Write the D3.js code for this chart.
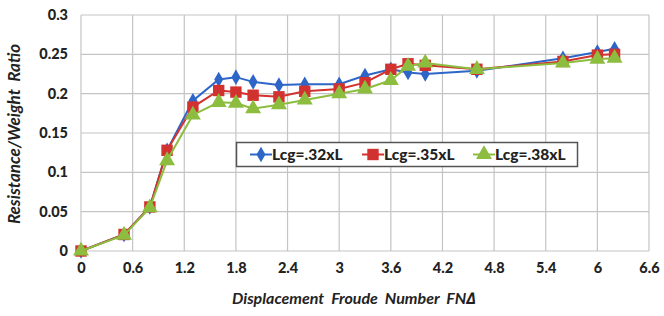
<!DOCTYPE html>
<html>
<head>
<meta charset="utf-8">
<script src="https://cdn.jsdelivr.net/npm/d3@7"></script>
<style>
  body { margin: 0; background: #fff; }
  svg { display: block; font-family: Lato, "Open Sans", sans-serif; }
</style>
</head>
<body>
<svg id="chart" width="664" height="316"></svg>
<script>
// values
const froude = [0, 0.5, 0.8, 1.0, 1.3, 1.6, 1.8, 2.0, 2.3, 2.6, 3.0, 3.3, 3.6, 3.8, 4.0, 4.6, 5.6, 6.0, 6.2];
const lcg32 = [0, 0.021, 0.056, 0.128, 0.191, 0.218, 0.221, 0.215, 0.211, 0.212, 0.212, 0.223, 0.231, 0.227, 0.225, 0.229, 0.245, 0.253, 0.257];
const lcg35 = [0, 0.021, 0.056, 0.128, 0.183, 0.204, 0.202, 0.198, 0.196, 0.203, 0.206, 0.214, 0.231, 0.238, 0.236, 0.231, 0.241, 0.249, 0.250];
const lcg38 = [0, 0.020, 0.055, 0.115, 0.173, 0.189, 0.188, 0.181, 0.186, 0.192, 0.200, 0.206, 0.217, 0.235, 0.239, 0.231, 0.239, 0.244, 0.245];
const seriesNames = ["Lcg=.32xL", "Lcg=.35xL", "Lcg=.38xL"];
const xTicks = [0, 0.6, 1.2, 1.8, 2.4, 3, 3.6, 4.2, 4.8, 5.4, 6, 6.6];
const yTicks = [0, 0.05, 0.1, 0.15, 0.2, 0.25, 0.3];

const svg = d3.select("#chart");
const margin = { left: 81, right: 15, top: 15, bottom: 65 };
const W = 664, H = 316;

const x = d3.scaleLinear().domain([0, 6.6]).range([margin.left, W - margin.right]);
const y = d3.scaleLinear().domain([0, 0.3]).range([H - margin.bottom, margin.top]);

const colors = ["#2e66c8", "#d2322f", "#8cbd3f"];
const symbols = [d3.symbolDiamond, d3.symbolSquare, d3.symbolTriangle];
const symSizes = [70, 130, 110];

// gridlines
const grid = svg.append("g");
grid.selectAll("line.h").data(yTicks).enter().append("line")
  .attr("x1", x(0)).attr("x2", x(6.6))
  .attr("y1", d => y(d)).attr("y2", d => y(d))
  .attr("stroke", "#c4c4c4").attr("stroke-width", 1.2);
grid.selectAll("line.v").data(xTicks).enter().append("line")
  .attr("y1", y(0)).attr("y2", y(0.3))
  .attr("x1", d => x(d)).attr("x2", d => x(d))
  .attr("stroke", "#c4c4c4").attr("stroke-width", 1.2);

// axes (labels only)
svg.append("g")
  .attr("transform", `translate(0,${y(0)})`)
  .call(d3.axisBottom(x).tickValues(xTicks).tickSize(0).tickPadding(12).tickFormat(d => String(d)));
svg.append("g")
  .attr("transform", `translate(${margin.left},0)`)
  .call(d3.axisLeft(y).tickValues(yTicks).tickSize(0).tickPadding(13).tickFormat(d => String(d)));
svg.selectAll(".domain").remove();
svg.selectAll(".tick text")
  .attr("font-family", "Lato, sans-serif")
  .attr("font-size", 14.5).attr("font-weight", 900).attr("fill", "#222");

svg.append("text")
  .attr("x", 354).attr("y", 304)
  .attr("text-anchor", "middle")
  .attr("font-size", 16).attr("font-weight", "bold").attr("font-style", "italic")
  .attr("fill", "#222").style("white-space", "pre")
  .text("Displacement  Froude  Number  FN\u2206");

svg.append("text")
  .attr("transform", `translate(20,134) rotate(-90)`)
  .attr("text-anchor", "middle")
  .attr("font-size", 17).attr("font-weight", "bold").attr("font-style", "italic")
  .attr("fill", "#222").style("white-space", "pre")
  .text("Resistance/Weight  Ratio");

// series
const allSeries = [lcg32, lcg35, lcg38];
const line = d3.line().x((d, i) => x(froude[i])).y(d => y(d));

allSeries.forEach((vals, k) => {
  const g = svg.append("g");
  g.append("path").datum(vals)
    .attr("d", line)
    .attr("fill", "none")
    .attr("stroke", colors[k]).attr("stroke-width", 2);
  g.selectAll("path.m").data(vals).enter().append("path")
    .attr("class", "m")
    .attr("d", d3.symbol().type(symbols[k]).size(symSizes[k]))
    .attr("transform", (d, i) => `translate(${x(froude[i])},${y(d)})`)
    .attr("fill", colors[k]);
});

// legend
const leg = svg.append("g");
leg.append("rect")
  .attr("x", 236.5).attr("y", 142.5).attr("width", 341).attr("height", 24)
  .attr("fill", "#fff").attr("stroke", "#555").attr("stroke-width", 1.5);
const legX = [250, 362, 473];
seriesNames.forEach((name, k) => {
  const cy = 154.5;
  leg.append("line")
    .attr("x1", legX[k]).attr("x2", legX[k] + 22)
    .attr("y1", cy).attr("y2", cy)
    .attr("stroke", colors[k]).attr("stroke-width", 2);
  leg.append("path")
    .attr("d", d3.symbol().type(symbols[k]).size(symSizes[k]))
    .attr("transform", `translate(${legX[k] + 11},${cy})`)
    .attr("fill", colors[k]);
  leg.append("text")
    .attr("x", legX[k] + 22).attr("y", cy + 5.5)
    .attr("font-size", 15.5).attr("font-weight", 900).attr("fill", "#222")
    .text(name);
});
</script>
</body>
</html>
